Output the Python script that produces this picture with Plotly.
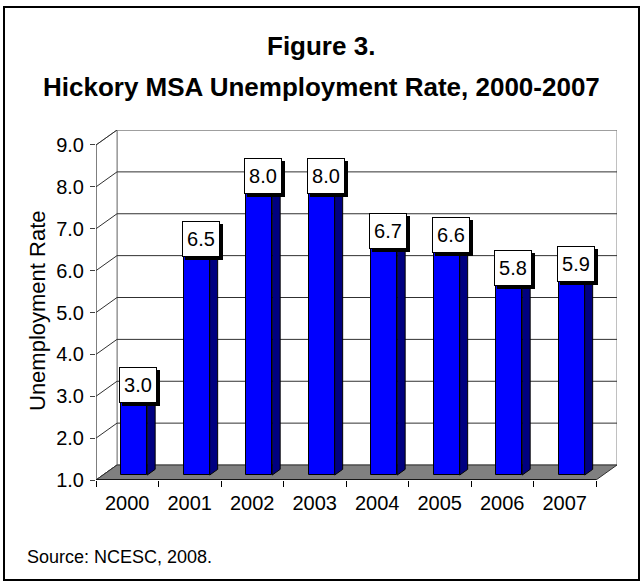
import plotly.graph_objects as go

# ---- data ----
years = ["2000", "2001", "2002", "2003", "2004", "2005", "2006", "2007"]
rates = [3.0, 6.5, 8.0, 8.0, 6.7, 6.6, 5.8, 5.9]
y_ticks = [1.0, 2.0, 3.0, 4.0, 5.0, 6.0, 7.0, 8.0, 9.0]

# ---- layout geometry (pixels) ----
W, H = 642, 583
ML, MR, MT, MB = 96, 25, 130, 103
PW, PH = W - ML - MR, H - MT - MB

FONT = "Liberation Sans, Arial, sans-serif"

# pseudo-3D depth in data units
DX = 0.336          # horizontal depth offset (x units)
DY = 0.358          # vertical depth offset (y units)
F0 = 0.33           # depth fraction where the bar front face sits
FD = 0.38           # bar depth fraction
BW = 0.416          # bar front width (x units)

y_min, y_max = y_ticks[0], y_ticks[-1]
x_lo, x_hi = -0.5, len(years) - 0.5


def px_x(px):
    return (px - ML) / PW


def px_y(py):
    return (H - MB - py) / PH


fig = go.Figure()

shapes = []

# back wall
shapes.append(dict(type="rect", xref="x", yref="y", layer="below",
                   x0=x_lo + DX, x1=x_hi + DX, y0=y_min + DY, y1=y_max + DY,
                   fillcolor="white", line=dict(color="#808080", width=1)))
# left side wall
shapes.append(dict(type="path", xref="x", yref="y", layer="below",
                   path=f"M {x_lo} {y_min} L {x_lo + DX} {y_min + DY} "
                        f"L {x_lo + DX} {y_max + DY} L {x_lo} {y_max} Z",
                   fillcolor="white", line=dict(color="#808080", width=1)))
# gridlines on the back wall and the side wall
for v in y_ticks:
    col = "#808080" if v == y_max else "#303030"
    if y_min < v:
        shapes.append(dict(type="line", xref="x", yref="y", layer="below",
                           x0=x_lo + DX, x1=x_hi + DX, y0=v + DY, y1=v + DY,
                           line=dict(color=col, width=1)))
    shapes.append(dict(type="line", xref="x", yref="y", layer="below",
                       x0=x_lo, x1=x_lo + DX, y0=v, y1=v + DY,
                       line=dict(color="#303030", width=1)))
# floor
shapes.append(dict(type="path", xref="x", yref="y", layer="below",
                   path=f"M {x_lo} {y_min} L {x_hi} {y_min} L {x_hi + DX} {y_min + DY} "
                        f"L {x_lo + DX} {y_min + DY} Z",
                   fillcolor="#808080", line=dict(color="#303030", width=1)))
# front axis lines
shapes.append(dict(type="line", xref="x", yref="y", x0=x_lo, x1=x_lo,
                   y0=y_min, y1=y_max, line=dict(color="#404040", width=1)))
shapes.append(dict(type="line", xref="x", yref="y", x0=x_lo, x1=x_hi,
                   y0=y_min, y1=y_min, line=dict(color="black", width=1.5)))

# outer frame of the figure
shapes.append(dict(type="rect", xref="paper", yref="paper",
                   x0=px_x(4), x1=px_x(639), y0=px_y(580), y1=px_y(7),
                   line=dict(color="black", width=2), fillcolor="rgba(0,0,0,0)"))

# ---- bars ----
xs = list(range(len(years)))
front_x = [i + F0 * DX for i in xs]
base = y_min + F0 * DY

fig.add_trace(go.Bar(
    x=front_x, y=[r - y_min for r in rates], base=base, width=BW,
    marker=dict(color="#0000FF", line=dict(color="black", width=1)),
    hoverinfo="skip", showlegend=False))

side_x, side_y, top_x, top_y = [], [], [], []
for fx, r in zip(front_x, rates):
    xl, xr = fx - BW / 2, fx + BW / 2
    top = r + F0 * DY
    side_x += [xr, xr + FD * DX, xr + FD * DX, xr, xr, None]
    side_y += [base, base + FD * DY, top + FD * DY, top, base, None]
    top_x += [xl, xr, xr + FD * DX, xl + FD * DX, xl, None]
    top_y += [top, top, top + FD * DY, top + FD * DY, top, None]

fig.add_trace(go.Scatter(x=side_x, y=side_y, mode="lines", fill="toself",
                         fillcolor="#000080", line=dict(color="black", width=1),
                         hoverinfo="skip", showlegend=False))
fig.add_trace(go.Scatter(x=top_x, y=top_y, mode="lines", fill="toself",
                         fillcolor="#3333FF", line=dict(color="black", width=1),
                         hoverinfo="skip", showlegend=False))

# ---- annotations ----
annotations = []
mid = F0 + FD / 2
for i, r in enumerate(rates):
    ax, ay = i + mid * DX, r + mid * DY
    # drop shadow
    annotations.append(dict(x=ax, y=ay, xref="x", yref="y", text=" ",
                            showarrow=False, width=34, height=32, borderpad=1,
                            bgcolor="black", bordercolor="black", borderwidth=1,
                            xshift=3, yshift=0,
                            font=dict(family=FONT, size=20)))
    annotations.append(dict(x=ax, y=ay, xref="x", yref="y", text=f"{r:.1f}",
                            showarrow=False, width=34, height=32, borderpad=1,
                            bgcolor="white", bordercolor="black", borderwidth=1,
                            yshift=3,
                            font=dict(family=FONT, size=20, color="black")))

annotations.append(dict(x=px_x(321), y=px_y(46), xref="paper", yref="paper",
                        text="<b>Figure 3.</b>", showarrow=False,
                        xanchor="center", yanchor="middle",
                        font=dict(family=FONT, size=26, color="black")))
annotations.append(dict(x=px_x(321), y=px_y(87), xref="paper", yref="paper",
                        text="<b>Hickory MSA Unemployment Rate, 2000-2007</b>",
                        showarrow=False, xanchor="center", yanchor="middle",
                        font=dict(family=FONT, size=26, color="black")))
annotations.append(dict(x=px_x(37), y=px_y(311), xref="paper", yref="paper",
                        text="Unemployment Rate", textangle=-90, showarrow=False,
                        xanchor="center", yanchor="middle",
                        font=dict(family=FONT, size=22, color="black")))
annotations.append(dict(x=px_x(25), y=px_y(557), xref="paper", yref="paper",
                        text="Source: NCESC, 2008.", showarrow=False,
                        xanchor="left", yanchor="middle",
                        font=dict(family=FONT, size=18, color="black")))

fig.update_layout(
    width=W, height=H,
    margin=dict(l=ML, r=MR, t=MT, b=MB, pad=0),
    paper_bgcolor="white", plot_bgcolor="white",
    shapes=shapes, annotations=annotations,
    showlegend=False, bargap=0,
    xaxis=dict(range=[x_lo, x_hi + DX], tickmode="array", tickvals=xs,
               ticktext=years, ticks="", showgrid=False, zeroline=False,
               showline=False, ticklabelstandoff=9,
               tickfont=dict(family=FONT, size=20, color="black"),
               minor=dict(tick0=-0.5, dtick=1, ticks="outside", ticklen=6,
                          tickcolor="black", tickwidth=1, showgrid=False),
               fixedrange=True),
    yaxis=dict(range=[y_min, y_max + DY], tickmode="array", tickvals=y_ticks,
               ticktext=[f"{t:.1f}" for t in y_ticks], ticks="outside",
               ticklen=5, tickcolor="#404040", showgrid=False, zeroline=False,
               showline=False, ticklabelstandoff=2,
               tickfont=dict(family=FONT, size=20, color="black"),
               fixedrange=True),
)

fig.write_html("out.html")
